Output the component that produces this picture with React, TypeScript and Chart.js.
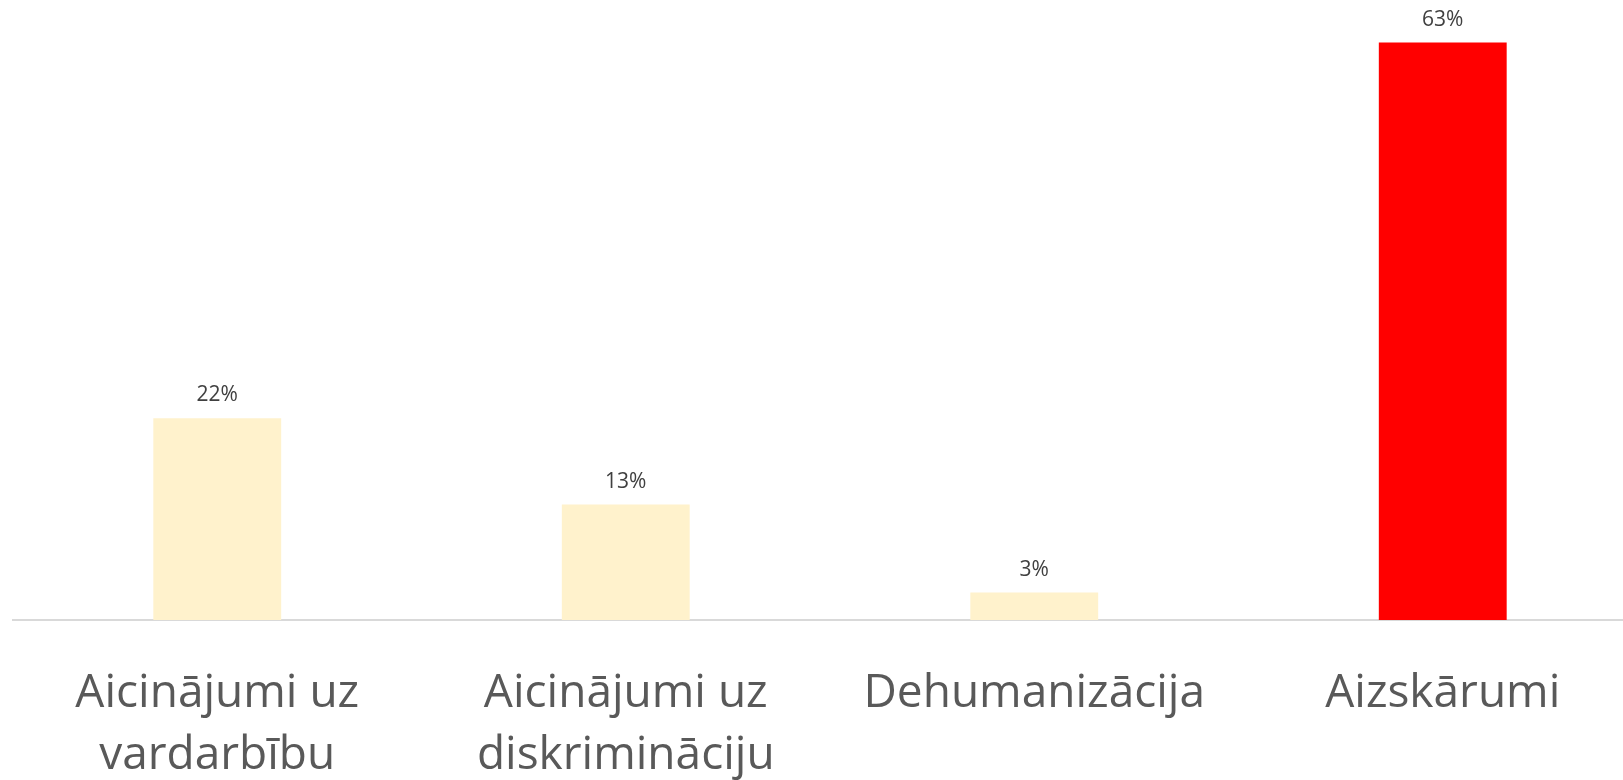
import React, { useEffect, useRef } from "react";
import { Chart, registerables } from "chart.js";

Chart.register(...registerables);

const categories: string[][] = [
  ["Aicinājumi uz", "vardarbību"],
  ["Aicinājumi uz", "diskrimināciju"],
  ["Dehumanizācija"],
  ["Aizskārumi"],
];
const values: number[] = [22, 12.6, 3, 63];
const valueLabels: string[] = ["22%", "13%", "3%", "63%"];
const barColors: string[] = ["#FFF2CC", "#FFF2CC", "#FFF2CC", "#FF0000"];

const valueLabelPlugin = {
  id: "valueLabels",
  afterDatasetsDraw(chart: any) {
    const ctx = chart.ctx;
    const meta = chart.getDatasetMeta(0);
    ctx.save();
    ctx.font = '21px "Open Sans"';
    ctx.fillStyle = "#404040";
    ctx.textAlign = "center";
    ctx.textBaseline = "alphabetic";
    meta.data.forEach((el: any, i: number) => {
      ctx.fillText(valueLabels[i], el.x, el.y - 17);
    });
    ctx.restore();
  },
};

export default function App() {
  const ref = useRef<HTMLCanvasElement | null>(null);
  useEffect(() => {
    if (!ref.current) return;
    const chart = new Chart(ref.current, {
      type: "bar",
      data: {
        labels: categories,
        datasets: [
          {
            data: values,
            backgroundColor: barColors,
            borderWidth: 0,
            categoryPercentage: 1,
            barPercentage: 0.313,
          },
        ],
      },
      options: {
        responsive: false,
        animation: false,
        layout: { padding: { left: 13, right: 13, top: 15, bottom: 0 } },
        plugins: {
          legend: { display: false },
          tooltip: { enabled: false },
        },
        scales: {
          x: {
            grid: { display: false, drawTicks: false },
            border: { display: true, color: "#D9D9D9", width: 2 },
            ticks: {
              color: "#595959",
              font: { family: '"Open Sans"', size: 46, lineHeight: 1.348 },
              padding: 43,
              maxRotation: 0,
              autoSkip: false,
            },
            afterFit: (scale: any) => {
              scale.height = 160;
            },
          },
          y: {
            display: false,
            min: 0,
            max: 66,
          },
        },
      },
      plugins: [valueLabelPlugin],
    });
    return () => chart.destroy();
  }, []);
  return (
    <div
      style={{
        position: "fixed",
        left: 0,
        top: 0,
        width: 1623,
        height: 780,
        overflow: "hidden",
        background: "#ffffff",
      }}
    >
      <canvas ref={ref} width={1660} height={780} style={{ display: "block" }} />
    </div>
  );
}
